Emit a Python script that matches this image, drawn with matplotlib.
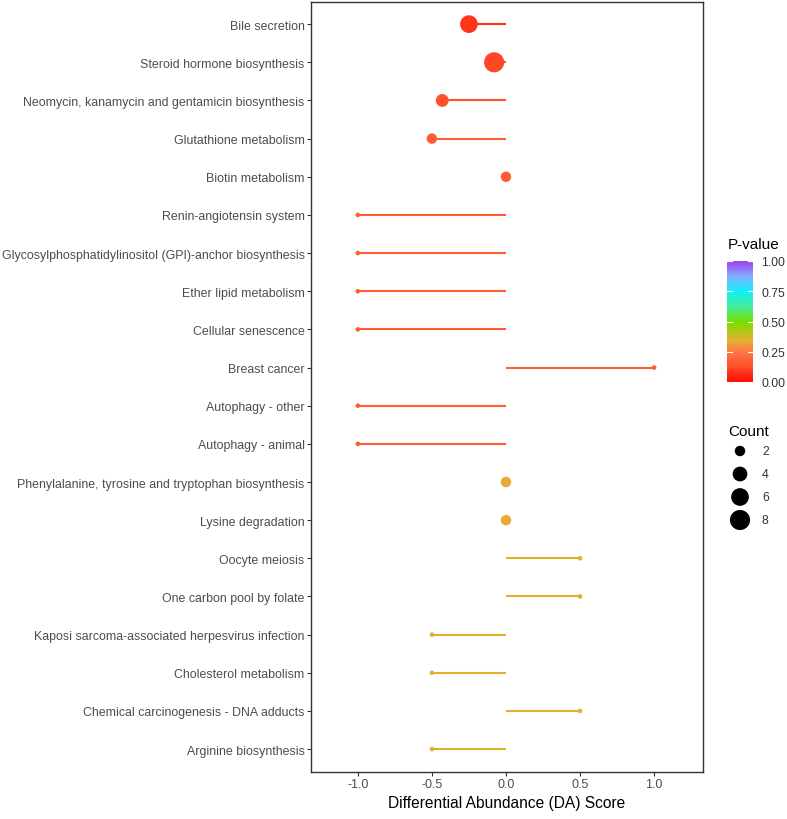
import numpy as np
import matplotlib
matplotlib.use("Agg")
import matplotlib.pyplot as plt
from matplotlib.colors import LinearSegmentedColormap, Normalize
import matplotlib.colorbar as mcolorbar

plt.rcParams['font.family'] = ['Liberation Sans', 'DejaVu Sans']

pathways = [
    "Bile secretion",
    "Steroid hormone biosynthesis",
    "Neomycin, kanamycin and gentamicin biosynthesis",
    "Glutathione metabolism",
    "Biotin metabolism",
    "Renin-angiotensin system",
    "Glycosylphosphatidylinositol (GPI)-anchor biosynthesis",
    "Ether lipid metabolism",
    "Cellular senescence",
    "Breast cancer",
    "Autophagy - other",
    "Autophagy - animal",
    "Phenylalanine, tyrosine and tryptophan biosynthesis",
    "Lysine degradation",
    "Oocyte meiosis",
    "One carbon pool by folate",
    "Kaposi sarcoma-associated herpesvirus infection",
    "Cholesterol metabolism",
    "Chemical carcinogenesis - DNA adducts",
    "Arginine biosynthesis",
]
da_score = [-0.25, -0.08, -0.43, -0.50, 0.0, -1.0, -1.0, -1.0, -1.0, 1.0,
            -1.0, -1.0, 0.0, 0.0, 0.5, 0.5, -0.5, -0.5, 0.5, -0.5]
counts = [6, 8, 3, 2, 2, 1, 1, 1, 1, 1, 1, 1, 2, 2, 1, 1, 1, 1, 1, 1]
pvalues = [0.08, 0.11, 0.14, 0.17, 0.17, 0.17, 0.17, 0.17, 0.17, 0.17,
           0.17, 0.17, 0.33, 0.33, 0.35, 0.35, 0.35, 0.35, 0.35, 0.35]

legend_counts = [2, 4, 6, 8]
cbar_ticks = [0.0, 0.25, 0.5, 0.75, 1.0]

cmap = LinearSegmentedColormap.from_list("pv", [
    (0.0, "#FF0A00"), (0.12, "#FF4C28"), (0.25, "#FF7848"), (0.34, "#E8AE30"),
    (0.5, "#74E000"), (0.62, "#48EC98"), (0.75, "#10F0F8"), (0.87, "#80B0FF"),
    (1.0, "#A040F0")])
norm = Normalize(0, 1)

cmin, cmax = 1, 8
def size_of(c):
    dia_mm = 1 + 5 * np.sqrt((np.asarray(c, float) - cmin) / (cmax - cmin))
    dia_px = 3.1 * dia_mm + 1.5
    return (dia_px * 0.72) ** 2

W, H = 787, 820
fig = plt.figure(figsize=(W / 100, H / 100), dpi=100)
ax = fig.add_axes([311 / W, 1 - 773 / H, (703 - 311) / W, (773 - 3) / H])

n = len(pathways)
ys = np.arange(n)[::-1]
cols = cmap(norm(pvalues))
for y, x, c in zip(ys, da_score, cols):
    ax.plot([0, x], [y, y], color=c, lw=1.5, solid_capstyle='butt', zorder=2)
ax.scatter(da_score, ys, s=size_of(counts), c=cols, linewidths=0, zorder=3)

ax.set_xlim(-1.316, 1.33)
ax.set_ylim(-0.6, n - 0.42)
ax.set_yticks(ys)
ax.set_yticklabels(pathways, fontsize=8.95, color="#4D4D4D")
ax.set_xticks([-1.0, -0.5, 0.0, 0.5, 1.0])
ax.set_xticklabels(["-1.0", "-0.5", "0.0", "0.5", "1.0"], fontsize=9, color="#4D4D4D")
ax.tick_params(axis='both', length=2.6, width=0.8, color="#333333", pad=2)
ax.set_xlabel("Differential Abundance (DA) Score", fontsize=11.2, color="black", labelpad=3)
for sp in ax.spines.values():
    sp.set_color("#333333")
    sp.set_linewidth(1.0)

# colourbar legend
fig.text(728 / W, 1 - 245 / H, "P-value", fontsize=11, va='center', ha='left')
cax = fig.add_axes([727 / W, 1 - 383 / H, 26 / W, 121 / H])
cb = mcolorbar.ColorbarBase(cax, cmap=cmap, norm=norm, orientation='vertical', ticks=cbar_ticks)
cb.outline.set_visible(False)
cax.set_yticklabels(["0.00", "0.25", "0.50", "0.75", "1.00"], fontsize=8.8, color="#333333")
cax.tick_params(axis='y', length=0, pad=6)
for t in cbar_ticks:
    cax.plot([0, 0.2], [t, t], color="white", lw=0.8, transform=cax.get_yaxis_transform())
    cax.plot([0.8, 1.0], [t, t], color="white", lw=0.8, transform=cax.get_yaxis_transform())

# size legend
fig.text(728 / W, 1 - 432 / H, "Count", fontsize=11, va='center', ha='left')
lax = fig.add_axes([727 / W, 1 - 535 / H, 60 / W, 95 / H])
lax.set_xlim(0, 60)
lax.set_ylim(535, 440)
ly = [452, 475, 498, 521]
lax.scatter([13] * 4, ly, s=size_of(legend_counts), c="black", linewidths=0)
for yv, c in zip(ly, legend_counts):
    lax.text(35, yv, str(c), fontsize=8.8, va='center', ha='left', color="#333333")
lax.axis('off')

fig.savefig("out.png", dpi=100)
